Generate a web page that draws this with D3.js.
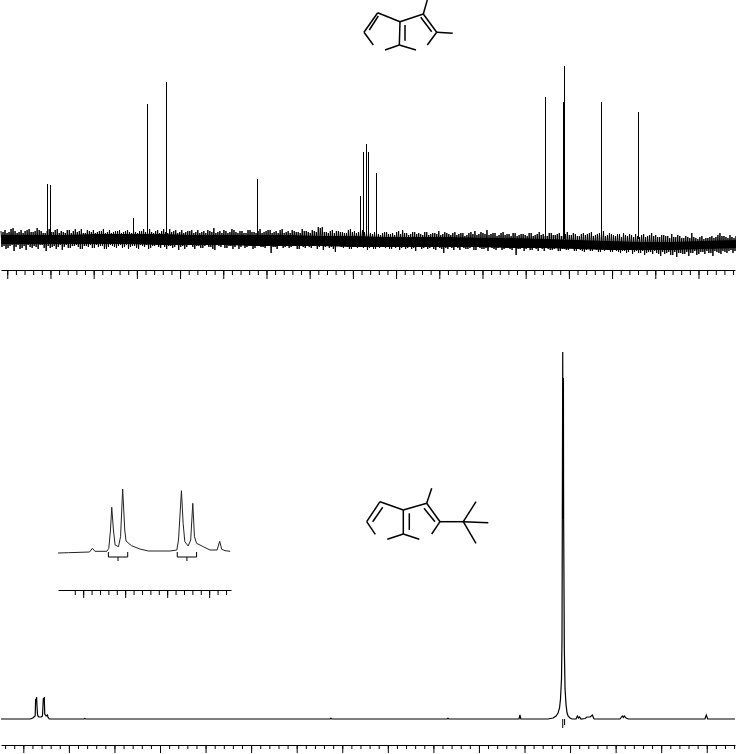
<!DOCTYPE html>
<html>
<head>
<meta charset="utf-8">
<script src="https://cdnjs.cloudflare.com/ajax/libs/d3/7.8.5/d3.min.js"></script>
<style>
  body { margin: 0; background: #fff; overflow: hidden; }
  svg { display: block; }
  path, line { fill: none; }
</style>
</head>
<body>
<div id="chart"></div>
<script>
// 13C spectrum, peak sticks
var carbonPpm = [241.5, 240.1, 201.7, 195.2, 186.4, 144.6, 96.5, 95.2, 93.8, 92.8, 89.1, 10.9, 2.7, 2.2, -15.0, -32.2];
var carbonInt = [55, 54, 21, 135, 157, 60, 43, 87, 95, 87, 66, 142, 137, 173, 137, 127];

// 13C noise envelope, left to right
var noiseHi = [
  8, 9, 7, 11, 6, 9, 8, 10, 7, 11,
  8, 6, 10, 7, 10, 8, 6, 9, 8, 7,
  10, 6, 8, 9, 7, 8, 6, 9, 7, 8,
  6, 8, 7, 9, 6, 8, 7, 10, 6, 9,
  8, 7, 10, 8, 6, 9, 7, 8, 6, 9,
  7, 6, 8, 11, 7, 6, 8, 7, 9, 6,
  8, 6, 9, 7, 8, 6, 8, 9, 7, 6,
  10, 7, 6, 8, 7, 10, 8, 6, 8, 12,
  12, 7, 8, 6, 8, 7, 6, 10, 8, 7,
  9, 6, 6, 7, 5, 6, 7, 5, 4, 8,
  9, 6, 5, 7, 6, 4, 7, 5, 6, 8,
  5, 6, 4, 7, 5, 6, 4, 7, 8, 5,
  6, 9, 5, 6, 4, 7, 5, 3, 6, 4,
  5, 3, 6, 4, 7, 5, 3, 6, 4, 6,
  3, 7, 4, 5, 3, 6, 5, 7, 4, 6,
  8, 4, 5, 3, 5, 6, 3, 4, 5, 2,
  5, 3, 6, 4, 2, 4, 3, 5, 2, 3,
  1, 2, 6, 1, 2, 0, 1, 3, 2, 6,
  3, 1, 2, 3
];
var noiseLo = [
  -8, -10, -7, -12, -6, -9, -11, -8, -7, -10,
  -6, -12, -9, -7, -8, -11, -6, -9, -7, -8,
  -10, -7, -6, -9, -8, -7, -10, -6, -8, -7,
  -9, -6, -8, -7, -10, -7, -6, -9, -7, -8,
  -6, -10, -7, -8, -11, -7, -8, -6, -10, -7,
  -9, -6, -8, -11, -7, -6, -9, -7, -8, -10,
  -6, -8, -7, -9, -6, -8, -7, -14, -8, -7,
  -9, -6, -8, -7, -10, -8, -7, -9, -7, -8,
  -11, -7, -8, -13, -7, -9, -8, -10, -7, -8,
  -9, -11, -8, -10, -9, -7, -8, -10, -9, -11,
  -8, -9, -10, -12, -8, -9, -10, -8, -11, -9,
  -14, -10, -9, -8, -11, -9, -10, -8, -11, -9,
  -10, -12, -9, -11, -8, -10, -9, -11, -16, -10,
  -12, -9, -11, -10, -9, -12, -10, -11, -9, -12,
  -10, -11, -9, -12, -11, -13, -10, -12, -11, -13,
  -12, -10, -13, -12, -14, -12, -13, -15, -12, -14,
  -16, -13, -15, -14, -17, -15, -13, -16, -18, -14,
  -15, -17, -14, -16, -13, -15, -14, -17, -13, -15,
  -13, -12, -14, -11
];
// in-between readings of the same band, half a step to the right
var noiseHi2 = [
  7, 6, 10, 8, 7, 6, 9, 7, 8, 9,
  6, 8, 7, 9, 6, 7, 9, 6, 10, 8,
  6, 9, 7, 6, 8, 10, 7, 6, 8, 9,
  7, 9, 6, 7, 8, 10, 6, 7, 8, 6,
  10, 6, 7, 9, 7, 6, 8, 9, 7, 6,
  8, 9, 7, 6, 8, 9, 6, 10, 7, 8,
  6, 9, 7, 6, 10, 7, 9, 6, 8, 9,
  6, 8, 9, 7, 6, 8, 7, 9, 7, 11,
  7, 6, 9, 8, 7, 6, 9, 7, 6, 8,
  7, 8, 5, 6, 4, 7, 5, 6, 7, 5,
  6, 4, 7, 5, 5, 7, 4, 6, 5, 4,
  7, 5, 6, 4, 6, 3, 6, 5, 4, 7,
  5, 4, 6, 3, 6, 4, 5, 6, 3, 5,
  4, 6, 3, 5, 4, 3, 6, 4, 5, 3,
  5, 4, 6, 3, 5, 4, 6, 3, 5, 4,
  3, 6, 4, 5, 2, 4, 5, 2, 3, 4,
  2, 4, 3, 2, 4, 3, 1, 2, 4, 1,
  3, 1, 2, 0, 3, 1, 2, 1, 4, 3,
  2, 4, 1, 2
];
var noiseLo2 = [
  -7, -9, -6, -8, -10, -7, -6, -9, -8, -6,
  -9, -7, -8, -10, -6, -8, -9, -7, -6, -10,
  -7, -8, -9, -6, -7, -10, -8, -7, -9, -6,
  -8, -10, -7, -9, -6, -8, -10, -7, -6, -9,
  -8, -7, -9, -6, -8, -10, -6, -8, -7, -9,
  -7, -8, -10, -6, -8, -9, -7, -10, -6, -8,
  -9, -7, -10, -6, -8, -9, -7, -8, -10, -6,
  -8, -9, -7, -10, -6, -9, -8, -7, -10, -7,
  -8, -9, -10, -7, -8, -7, -10, -8, -9, -7,
  -8, -9, -10, -8, -7, -9, -10, -8, -7, -9,
  -10, -8, -9, -7, -10, -8, -9, -10, -8, -10,
  -9, -8, -11, -9, -8, -10, -9, -11, -8, -10,
  -9, -8, -10, -9, -11, -9, -10, -8, -10, -9,
  -10, -11, -9, -12, -10, -9, -11, -10, -12, -10,
  -11, -9, -12, -10, -12, -11, -12, -10, -13, -11,
  -10, -13, -11, -13, -12, -14, -11, -13, -14, -12,
  -14, -13, -12, -15, -13, -14, -16, -13, -14, -15,
  -13, -14, -12, -15, -13, -12, -14, -12, -14, -12,
  -14, -11, -12, -13
];
// solid part of the noise band
var coreHi = [4, 4, 4, 5, 5, 5, 4, 4, 4, 4, 3, 3, 2, 2, 2, 1, 1, 0, -1, -2, -3, -3, -2, -1];
var coreLo = [-5, -5, -5, -5, -5, -6, -6, -6, -7, -7, -7, -8, -8, -8, -8, -8, -9, -9, -10, -11, -11, -11, -10, -9];

// 1H spectrum trace
var protonPpm = [12.49, 11.85, 11.79, 11.77, 11.74, 11.73, 11.72, 11.71, 11.69, 11.68, 11.66, 11.61, 11.58, 11.56, 11.55, 11.54, 11.53, 11.50, 11.47, 11.46, 11.43,
  10.67, 10.65, 10.63, 5.27, 5.25, 5.23, 2.70, 2.68, 2.66, 1.12, 1.10, 1.08,
  0.484, 0.374, 0.308, 0.264, 0.231, 0.21, 0.188, 0.177, 0.170, 0.161, 0.155, 0.146, 0.141, 0.126, 0.11, 0.088, 0.066, 0.044, 0.001, -0.044, -0.11,
  -0.131, -0.16, -0.186, -0.21, -0.24, -0.33, -0.37, -0.44, -0.49, -0.52, -0.53,
  -1.096, -1.147, -1.17, -1.19, -1.23, -1.28, -2.96, -2.99, -3.02, -3.62];
var protonInt = [0, 0, 1, 2, 3, 20, 18, 22, 5, 3, 2, 2, 3, 21, 18, 22, 5, 3, 4, 2, 0,
  0, 0.5, 0, 0, 0.7, 0, 0, 0.7, 0, 0, 4, 0,
  0, 1, 3, 6, 11, 20, 40, 80, 200, 367, 200, 341, 200, 70, 30, 14, 6, 3, 1, 0, 0,
  0, 3, 1, 2, 0, 0.5, 2, 2, 4, 0.5, 0,
  0, 3, 1.5, 3, 1, 0, 0, 4, 0, 0];
// small dips below the baseline under the main peak
var dipPpm = [0.161, 0.12];
var dipInt = [-9, -6];

// expanded region of the 1H spectrum
var insetPpm = [11.76, 11.735, 11.685, 11.678, 11.672, 11.644, 11.639, 11.635, 11.632, 11.628, 11.624, 11.616, 11.611, 11.606, 11.601, 11.598, 11.585, 11.565, 11.545, 11.493,
  11.477, 11.473, 11.466, 11.462, 11.458, 11.45, 11.444, 11.439, 11.435, 11.43, 11.414, 11.398, 11.381, 11.375, 11.37, 11.362, 11.35];
var insetInt = [0, 0.3, 1, 4.7, 1.7, 1.7, 4.7, 23, 45.7, 23, 8, 6.3, 16.3, 64, 23, 12, 7.3, 4, 2, 2,
  3, 13, 62.3, 29.7, 11.3, 7, 13, 49.7, 16.3, 9.7, 6.3, 3, 3, 11.7, 3.7, 2.3, 1.7];
var insetBrackets = [[11.64, 11.594], [11.476, 11.43]];

// structures, atom positions in drawing units
var ringBonds = [
  [[377.7, 12.7], [364, 32.3]], [[364, 32.3], [373.3, 45]], [[385, 50], [399.3, 45]], [[399.3, 45], [416, 50]],
  [[427.3, 45], [436.7, 32.3]], [[436.7, 32.3], [423.3, 14]], [[423.3, 14], [400, 21.7]], [[400, 21.7], [377.7, 12.7]],
  [[400, 21.7], [399.3, 45]], [[423.3, 14], [427.3, 0]], [[436.7, 32.3], [452.7, 33.3]],
  [[378.3, 16], [369.3, 30]], [[405, 25], [405, 40.7]], [[420.7, 17.3], [431.7, 31.7]]
];
var tertButylBonds = [
  [[380, 501.7], [366.7, 521.7]], [[366.7, 521.7], [375.3, 534.3]], [[387.3, 539.3], [403.3, 534]], [[403.3, 534], [419.3, 539.3]],
  [[431.7, 534], [440, 521.7]], [[440, 521.7], [426.7, 503.3]], [[426.7, 503.3], [403.3, 510]], [[403.3, 510], [380, 501.7]],
  [[403.3, 510], [403.3, 534]], [[426.7, 503.3], [431.7, 488.3]], [[440, 521.7], [463.3, 521.7]],
  [[463.3, 521.7], [476, 501.7]], [[463.3, 521.7], [488.3, 522.7]], [[463.3, 521.7], [476, 543.3]],
  [[382.7, 507.3], [372.7, 521.7]], [[409.3, 513.3], [409.3, 530]], [[424, 508.3], [435, 521.7]]
];

var width = 736, height = 754;

var svg = d3.select("#chart").append("svg")
    .attr("width", width)
    .attr("height", height);

var xTop = d3.scaleLinear().domain([262.9, -76.9]).range([1, 735]);
var yTop = d3.scaleLinear().domain([0, 173]).range([239, 66]);
var xBottom = d3.scaleLinear().domain([12.49, -3.62]).range([1, 735]);
var yBottom = d3.scaleLinear().domain([0, 367]).range([719, 352]);
var xInset = d3.scaleLinear().domain([11.76, 11.348]).range([58, 231]);
var yInset = d3.scaleLinear().domain([0, 64]).range([553, 489]);

function drawAxis(scale, y, minors, majors, minorLen, majorLen) {
  svg.append("g")
      .attr("transform", "translate(0," + y + ")")
      .call(d3.axisBottom(scale).tickValues(minors).tickSize(minorLen).tickSizeOuter(0).tickFormat(""));
  var major = svg.append("g")
      .attr("transform", "translate(0," + y + ")")
      .call(d3.axisBottom(scale).tickValues(majors).tickSize(majorLen).tickSizeOuter(0).tickFormat(""));
  major.select(".domain").remove();
}

drawAxis(xTop, 270, d3.range(260, -77, -4), d3.range(260, -61, -20), 5, 9);
drawAxis(xBottom, 745, d3.range(12.4, -3.62, -0.2), d3.range(12, -3.5, -1), 4, 8);
drawAxis(xInset, 590, d3.range(11.72, 11.36, -0.02), d3.range(11.7, 11.39, -0.1), 5, 8);

// noise band of the 13C spectrum
var noiseX = d3.scaleLinear().domain([0, noiseHi.length - 1]).range([1, 736]);
var coreX = d3.scaleLinear().domain([0, coreHi.length - 1]).range([1, 736]);

svg.append("path")
    .attr("d", d3.area()
      .x(function(d, i) { return coreX(i); })
      .y0(function(d, i) { return yTop(coreLo[i]); })
      .y1(function(d) { return yTop(d); })(coreHi))
    .style("fill", "#000");

var zigzag = [];
noiseHi.forEach(function(d, i) {
  zigzag.push([noiseX(i), yTop(d)]);
  zigzag.push([noiseX(i + 0.25), yTop(noiseLo[i])]);
  zigzag.push([noiseX(i + 0.5), yTop(noiseHi2[i])]);
  zigzag.push([noiseX(i + 0.75), yTop(noiseLo2[i])]);
});
svg.append("path")
    .attr("d", d3.line()(zigzag))
    .attr("stroke", "#000")
    .attr("stroke-width", 1);

svg.selectAll(".carbon")
    .data(carbonPpm)
    .enter().append("line")
    .attr("class", "carbon")
    .attr("x1", function(d) { return Math.round(xTop(d)) + 0.5; })
    .attr("x2", function(d) { return Math.round(xTop(d)) + 0.5; })
    .attr("y1", yTop(0))
    .attr("y2", function(d, i) { return yTop(carbonInt[i]); })
    .attr("stroke", "#000");

// 1H trace
svg.append("path")
    .attr("d", d3.line()
      .x(function(d) { return xBottom(d); })
      .y(function(d, i) { return yBottom(protonInt[i]); })(protonPpm))
    .attr("stroke", "#000")
    .attr("stroke-width", 1.2);

svg.selectAll(".dip")
    .data(dipPpm)
    .enter().append("line")
    .attr("class", "dip")
    .attr("x1", function(d) { return xBottom(d); })
    .attr("x2", function(d) { return xBottom(d); })
    .attr("y1", yBottom(0))
    .attr("y2", function(d, i) { return yBottom(dipInt[i]); })
    .attr("stroke", "#000");

// inset trace
svg.append("path")
    .attr("d", d3.line()
      .x(function(d) { return xInset(d); })
      .y(function(d, i) { return yInset(insetInt[i]); })(insetPpm))
    .attr("stroke", "#222")
    .attr("stroke-width", 1);

// integral brackets under the inset doublets
svg.selectAll(".bracket")
    .data(insetBrackets)
    .enter().append("path")
    .attr("class", "bracket")
    .attr("d", function(d) {
      var x0 = xInset(d[0]), x1 = xInset(d[1]), mid = (x0 + x1) / 2;
      return "M" + x0 + ",552V557H" + x1 + "V552M" + mid + ",557V561";
    })
    .attr("stroke", "#000");

function drawBonds(bonds) {
  svg.append("g").selectAll("line")
      .data(bonds)
      .enter().append("line")
      .attr("x1", function(d) { return d[0][0]; })
      .attr("y1", function(d) { return d[0][1]; })
      .attr("x2", function(d) { return d[1][0]; })
      .attr("y2", function(d) { return d[1][1]; })
      .attr("stroke", "#000")
      .attr("stroke-width", 1.5);
}

drawBonds(ringBonds);
drawBonds(tertButylBonds);
</script>
</body>
</html>
